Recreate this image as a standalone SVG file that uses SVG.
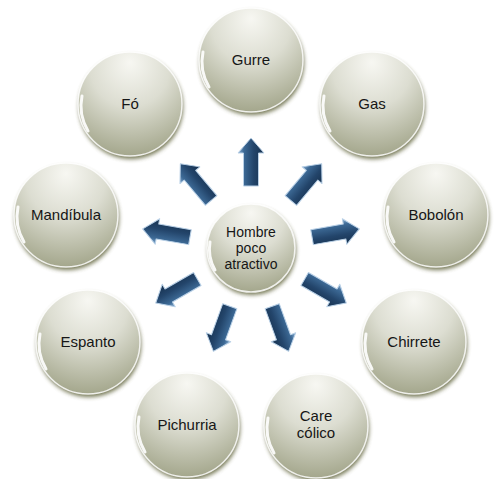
<svg xmlns="http://www.w3.org/2000/svg" xmlns:xlink="http://www.w3.org/1999/xlink" width="494" height="479" viewBox="0 0 494 479">
<defs>
<style>
.sh{fill:#5c5f36;filter:url(#blur);opacity:.85}
.ball{fill:url(#gBall);stroke:#ffffff;stroke-opacity:.85;stroke-width:1.5}
.hl{fill:none;stroke:#ffffff;stroke-width:3;stroke-linecap:round;opacity:.9}
.lbl{font-family:"Liberation Sans",Arial,sans-serif;font-size:15px;fill:#161616;text-anchor:middle}
.sm{font-size:14px}
.arr{fill:url(#gArr);stroke:#b9d0e6;stroke-width:1;stroke-linejoin:round}
</style>
<radialGradient id="gBall" cx="0.5" cy="0.2" r="0.85" fx="0.5" fy="0.1">
<stop offset="0" stop-color="#f7f7f2"/>
<stop offset="0.45" stop-color="#dcddd1"/>
<stop offset="1" stop-color="#9ea185"/>
</radialGradient>
<linearGradient id="gArr" x1="0" y1="0" x2="0" y2="1">
<stop offset="0" stop-color="#8db2d6"/>
<stop offset="0.22" stop-color="#3d6a96"/>
<stop offset="0.6" stop-color="#23456b"/>
<stop offset="1" stop-color="#16304d"/>
</linearGradient>
<filter id="blur" x="-20%" y="-20%" width="140%" height="140%">
<feGaussianBlur stdDeviation="2"/>
</filter>
<path id="arrow" class="arr" d="M62,-7.5 H95 V-13 L110,0 L95,13 V7.5 H62 Z"/>
</defs>
<rect width="494" height="479" fill="#ffffff"/>

<g id="connectors">
<use xlink:href="#arrow" transform="translate(251,248) rotate(-90)"/>
<use xlink:href="#arrow" transform="translate(251,248) rotate(-50)"/>
<use xlink:href="#arrow" transform="translate(251,248) rotate(-10)"/>
<use xlink:href="#arrow" transform="translate(251,248) rotate(30)"/>
<use xlink:href="#arrow" transform="translate(251,248) rotate(70)"/>
<use xlink:href="#arrow" transform="translate(251,248) rotate(110)"/>
<use xlink:href="#arrow" transform="translate(251,248) rotate(150)"/>
<use xlink:href="#arrow" transform="translate(251,248) rotate(190)"/>
<use xlink:href="#arrow" transform="translate(251,248) rotate(230)"/>
</g>

<g id="center" transform="translate(251,248)">
<circle class="sh" cx="1" cy="3" r="44"/>
<circle class="ball" r="44"/>
<path class="hl" d="M-36,22 A42,42 0 0 1 -41,-6" />
<text class="lbl sm" y="-11">Hombre</text>
<text class="lbl sm" y="5">poco</text>
<text class="lbl sm" y="21">atractivo</text>
</g>

<g id="gurre" transform="translate(251,60)">
<circle class="sh" cx="1" cy="3" r="52"/>
<circle class="ball" r="52"/>
<path class="hl" d="M-42,27 A49,49 0 0 1 -48,-8"/>
<text class="lbl" y="5">Gurre</text>
</g>

<g id="gas" transform="translate(372,104)">
<circle class="sh" cx="1" cy="3" r="52"/>
<circle class="ball" r="52"/>
<path class="hl" d="M-42,27 A49,49 0 0 1 -48,-8"/>
<text class="lbl" y="5">Gas</text>
</g>

<g id="bobolon" transform="translate(436,215)">
<circle class="sh" cx="1" cy="3" r="52"/>
<circle class="ball" r="52"/>
<path class="hl" d="M-42,27 A49,49 0 0 1 -48,-8"/>
<text class="lbl" y="5">Bobolón</text>
</g>

<g id="chirrete" transform="translate(414,342)">
<circle class="sh" cx="1" cy="3" r="52"/>
<circle class="ball" r="52"/>
<path class="hl" d="M-42,27 A49,49 0 0 1 -48,-8"/>
<text class="lbl" y="5">Chirrete</text>
</g>

<g id="care-colico" transform="translate(316,426)">
<circle class="sh" cx="1" cy="3" r="52"/>
<circle class="ball" r="52"/>
<path class="hl" d="M-42,27 A49,49 0 0 1 -48,-8"/>
<text class="lbl" y="-5">Care</text>
<text class="lbl" y="12">cólico</text>
</g>

<g id="pichurria" transform="translate(187,425)">
<circle class="sh" cx="1" cy="3" r="52"/>
<circle class="ball" r="52"/>
<path class="hl" d="M-42,27 A49,49 0 0 1 -48,-8"/>
<text class="lbl" y="5">Pichurria</text>
</g>

<g id="espanto" transform="translate(88,342)">
<circle class="sh" cx="1" cy="3" r="52"/>
<circle class="ball" r="52"/>
<path class="hl" d="M-42,27 A49,49 0 0 1 -48,-8"/>
<text class="lbl" y="5">Espanto</text>
</g>

<g id="mandibula" transform="translate(66,215)">
<circle class="sh" cx="1" cy="3" r="52"/>
<circle class="ball" r="52"/>
<path class="hl" d="M-42,27 A49,49 0 0 1 -48,-8"/>
<text class="lbl" y="5">Mandíbula</text>
</g>

<g id="fo" transform="translate(130,104)">
<circle class="sh" cx="1" cy="3" r="52"/>
<circle class="ball" r="52"/>
<path class="hl" d="M-42,27 A49,49 0 0 1 -48,-8"/>
<text class="lbl" y="5">Fó</text>
</g>
</svg>
